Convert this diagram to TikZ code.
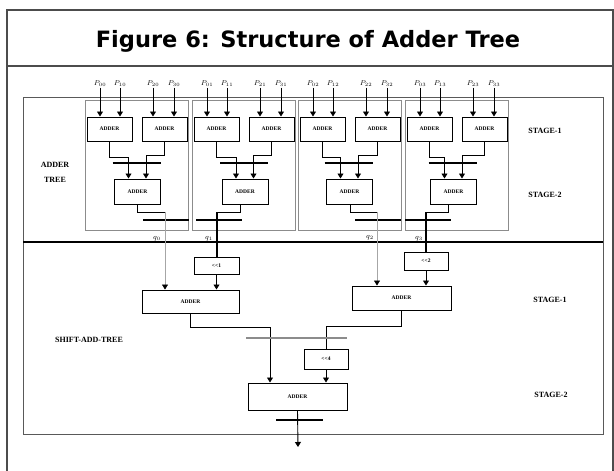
\documentclass[tikz,border=0pt]{standalone}
\usepackage{fontspec}
\setmainfont{Liberation Serif}
\newfontfamily\titlefont{DejaVu Sans}
\usetikzlibrary{arrows.meta}
\begin{document}
\begin{tikzpicture}[x=1pt,y=-1pt,
 frame/.style={draw=black!70, line width=1.2pt},
 grp/.style={draw=black!45, line width=1pt},
 adderbox/.style={draw, line width=1pt, fill=white, inner sep=0pt, font=\bfseries\fontsize{5.5}{6}\selectfont},
 wire/.style={line width=0.9pt},
 arr/.style={wire, -{Triangle[width=6pt,length=5pt]}},
 thinarr/.style={line width=0.5pt, draw=black!35, -{Triangle[width=6pt,length=5pt,color=black]}},
 bar/.style={line width=2.2pt},
 graybar/.style={line width=1.4pt, draw=black!45},
 lbl/.style={font=\bfseries\fontsize{8}{15}\selectfont},
 plab/.style={font=\fontsize{7.5}{8}\selectfont, inner sep=0.5pt},
]
\useasboundingbox (0,0) rectangle (614,471);
\fill[white] (0,0) rectangle (614,471);
\draw[frame] (7,471) -- (7,10) -- (613,10) -- (613,471);
\draw[frame] (7,66) -- (613,66);
\node[font=\titlefont\bfseries\fontsize{22.5}{26}\selectfont] (title) at (308,41) {Figure 6: Structure of Adder Tree};
\draw[line width=1pt, draw=black!65] (23,97) rectangle (603,434);
\draw[line width=1.2pt] (23,242) -- (603,242);
% adder tree groups
\foreach \L/\c/\o/\q/\bl [count=\i] in {85/52.5/52/80/58, 192/53/48/25/4, 298/51.5/52/79/57, 405/48.5/43/21/0}{
  \pgfmathtruncatemacro\k{\i-1}
  \draw[grp] (\L,100) rectangle (\L+103,230);
  \node[adderbox, minimum width=45pt, minimum height=24pt] (a\i) at (\L+24.5,129) {ADDER};
  \node[adderbox, minimum width=45pt, minimum height=24pt] (b\i) at (\L+79.5,129) {ADDER};
  \node[adderbox, minimum width=46pt, minimum height=25pt] (s\i) at (\L+\c,191.5) {ADDER};
  \node[plab] (p\i-1) at (\L+15,84) {$P_{0\k}$};
  \node[plab] (p\i-2) at (\L+35,84) {$P_{1\k}$};
  \node[plab] (p\i-3) at (\L+68,84) {$P_{2\k}$};
  \node[plab] (p\i-4) at (\L+89,84) {$P_{3\k}$};
  \draw[arr] (p\i-1.south) -- (p\i-1.south |- a\i.north);
  \draw[arr] (p\i-2.south) -- (p\i-2.south |- a\i.north);
  \draw[arr] (p\i-3.south) -- (p\i-3.south |- b\i.north);
  \draw[arr] (p\i-4.south) -- (p\i-4.south |- b\i.north);
  \draw[arr] (a\i.south) -- ++(0,16) -| ([xshift=-9pt]s\i.north);
  \draw[arr] (b\i.south) -- ++(0,14) -| ([xshift=8.5pt]s\i.north);
  \draw[bar] (\L+\c-25,163) -- (\L+\c+23,163);
  \coordinate (q\i) at (\L+\q,212);
  \draw[wire] ([xshift=\o pt-\c pt]s\i.south) |- (q\i);
  \draw[bar] (\L+\bl,220) -- (\L+\bl+46,220);
}
% shift-add tree
\node[adderbox, minimum width=45pt, minimum height=17pt] (sh1) at (216.5,265.5) {<{}<1};
\node[adderbox, minimum width=97pt, minimum height=23pt] (ad1) at (190.5,301.5) {ADDER};
\node[adderbox, minimum width=44pt, minimum height=18pt] (sh2) at (426,261) {<{}<2};
\node[adderbox, minimum width=99pt, minimum height=24pt] (ad2) at (401.5,298) {ADDER};
\node[adderbox, minimum width=44pt, minimum height=20pt] (sh3) at (326,359) {<{}<4};
\node[adderbox, minimum width=99pt, minimum height=27pt] (ad3) at (297.5,396.5) {ADDER};
\coordinate (out) at (298,447);
\draw[thinarr] (q1) -- (q1 |- ad1.north);
\draw[line width=1.2pt] (q2) -- (q2 |- sh1.north);
\draw[arr] (sh1.south) -- (sh1.south |- ad1.north);
\draw[thinarr] (q3) -- (q3 |- ad2.north);
\draw[line width=1.2pt] (q4) -- (q4 |- sh2.north);
\draw[arr] (sh2.south) -- (sh2.south |- ad2.north);
\node[plab] (ql0) at (157,239) {$q_0$};
\node[plab] (ql1) at (209,239) {$q_1$};
\node[plab] (ql2) at (370,238) {$q_2$};
\node[plab] (ql3) at (419,239) {$q_3$};
\draw[arr] (ad1.south) -- ++(0,14) -| ([xshift=-27.5pt]ad3.north);
\draw[wire] (ad2.south) -- ++(0,16) -| (sh3.north);
\draw[arr] (sh3.south) -- (sh3.south |- ad3.north);
\draw[graybar] (246,338) -- (347,338);
\draw[arr] (ad3.south) -- (out);
\draw[bar] (276,420) -- (323,420);
% labels
\node[lbl, align=center] (atree) at (55,172) {ADDER\\TREE};
\node[lbl] (satree) at (89,340) {SHIFT-ADD-TREE};
\node[lbl] (st1) at (545,131) {STAGE-1};
\node[lbl] (st2) at (545,195) {STAGE-2};
\node[lbl] (st3) at (550,300) {STAGE-1};
\node[lbl] (st4) at (551,395) {STAGE-2};
\end{tikzpicture}
\end{document}
